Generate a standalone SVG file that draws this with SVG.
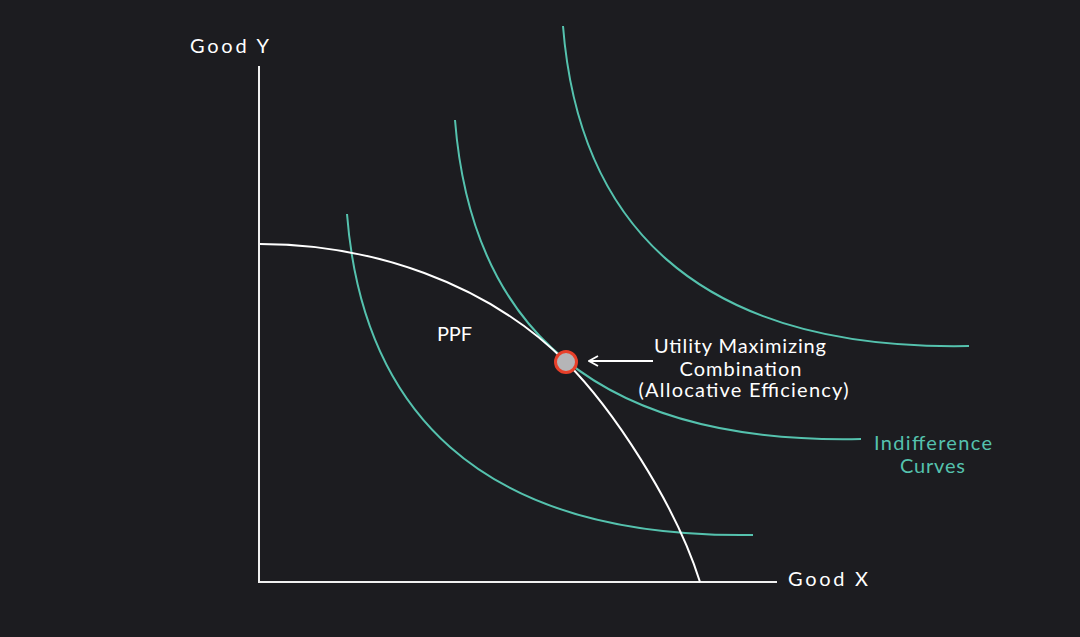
<svg xmlns="http://www.w3.org/2000/svg" width="1080" height="637" viewBox="0 0 1080 637">
  <style>
    .axis { stroke: #f0f0f0; stroke-width: 2; fill: none; }
    .ppf { stroke: #ffffff; stroke-width: 2; fill: none; }
    .ic { stroke: #55c2ae; stroke-width: 2; fill: none; }
    .lbl { font-family: "Lato", "Liberation Sans", sans-serif; font-size: 20px; fill: #ffffff; }
    .teal { fill: #55c2ae; }
  </style>
  <defs>
    <marker id="arrowhead" viewBox="0 0 12 12" refX="11" refY="6" markerWidth="12" markerHeight="12" markerUnits="userSpaceOnUse" orient="auto">
      <path d="M2,1 L11,6 L2,11" fill="none" stroke="#ffffff" stroke-width="1.8"/>
    </marker>
  </defs>
  <rect width="1080" height="637" fill="#1c1c20"/>

  <g id="axes">
    <line class="axis" x1="259" y1="66" x2="259" y2="582"/>
    <line class="axis" x1="258" y1="582" x2="777" y2="582"/>
    <text class="lbl" x="190" y="52.5" textLength="79" lengthAdjust="spacing">Good Y</text>
    <text class="lbl" x="788" y="586" textLength="80" lengthAdjust="spacing">Good X</text>
  </g>

  <g id="indifference-curve-1">
    <path class="ic" d="M347,214 c15,190 125,325 406,321"/>
  </g>
  <g id="indifference-curve-2">
    <path class="ic" d="M455,120 c15,190 122,325 406,319"/>
  </g>
  <g id="indifference-curve-3">
    <path class="ic" d="M563,26 c15,190 125,325 406,320"/>
  </g>

  <g id="ppf">
    <path class="ppf" d="M260,244 C370,244 486,282 566,362 C611,407 675,502 700,582"/>
    <text class="lbl" x="437" y="341" textLength="35" lengthAdjust="spacing">PPF</text>
  </g>

  <g id="connectors">
    <line x1="653" y1="361" x2="589" y2="361" stroke="#ffffff" stroke-width="1.8" marker-end="url(#arrowhead)"/>
  </g>

  <g id="optimum-point">
    <circle cx="566" cy="362" r="10.5" fill="#b5b5b7" stroke="#e8402a" stroke-width="3"/>
  </g>

  <g id="optimum-label">
    <text class="lbl" x="654" y="353" textLength="172" lengthAdjust="spacing">Utility Maximizing</text>
    <text class="lbl" x="679.5" y="375.5" textLength="122" lengthAdjust="spacing">Combination</text>
    <text class="lbl" x="638.5" y="397" textLength="210" lengthAdjust="spacing">(Allocative Efficiency)</text>
  </g>

  <g id="ic-label">
    <text class="lbl teal" x="874" y="450" textLength="118" lengthAdjust="spacing">Indifference</text>
    <text class="lbl teal" x="900" y="472.5" textLength="65" lengthAdjust="spacing">Curves</text>
  </g>
</svg>
